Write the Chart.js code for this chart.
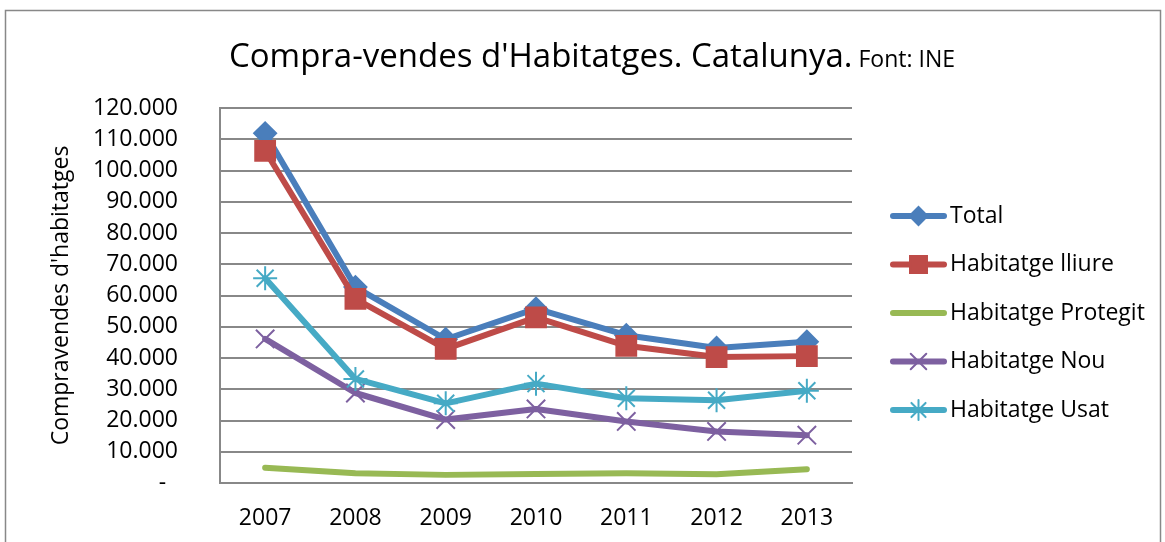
<!DOCTYPE html>
<html>
<head>
  <meta charset="UTF-8">
  <title>Compra-vendes d'Habitatges. Catalunya</title>
  <script src="https://cdn.jsdelivr.net/npm/chart.js"></script>
  <style>
    body { margin: 0; background: #fff; }
  </style>
</head>
<body>
    <canvas id="vendesChart" width="1165" height="542"></canvas>
    <script>
        // data (units: habitatges)
        var years = ['2007', '2008', '2009', '2010', '2011', '2012', '2013'];
        var total = [111900, 62700, 46000, 55800, 47300, 43200, 45200];
        var lliure = [106300, 58900, 42900, 53000, 43900, 40300, 40600];
        var protegit = [4900, 3100, 2600, 2900, 3100, 2800, 4400];
        var nou = [46100, 28800, 20300, 23700, 19700, 16500, 15300];
        var usat = [65500, 33300, 25500, 31800, 27100, 26500, 29500];
        var seriesNames = ['Total', 'Habitatge lliure', 'Habitatge Protegit', 'Habitatge Nou', 'Habitatge Usat'];

        var font = "'Open Sans', 'Noto Sans', sans-serif";
        var gridColor = '#888888';

        function formatNum(v) {
            if (v === 0) return '-  ';
            return String(v).replace(/\B(?=(\d{3})+(?!\d))/g, '.');
        }

        function makeSet(name, values, color, style, radius, order) {
            return {
                label: name,
                data: values,
                borderColor: color,
                backgroundColor: color,
                pointBackgroundColor: color,
                pointBorderColor: color,
                borderWidth: 6,
                borderCapStyle: 'round',
                borderJoinStyle: 'round',
                pointStyle: style,
                pointRadius: radius,
                pointHoverRadius: radius,
                pointBorderWidth: 2,
                tension: 0,
                order: order
            };
        }

        // title, legend and frame are painted by hand
        var decorations = {
            id: 'decorations',
            beforeDraw: function(chart) {
                var ctx = chart.ctx;
                ctx.save();
                ctx.fillStyle = '#ffffff';
                ctx.fillRect(0, 0, chart.width, chart.height);
                ctx.restore();
            },
            afterDraw: function(chart) {
                var ctx = chart.ctx;
                ctx.save();

                // frame
                ctx.strokeStyle = gridColor;
                ctx.lineWidth = 1.5;
                ctx.strokeRect(5.5, 10.5, 1155, 540);

                // title in two sizes
                var main = "Compra-vendes d'Habitatges. Catalunya.";
                var small = ' Font: INE';
                ctx.fillStyle = '#000';
                ctx.textBaseline = 'alphabetic';
                ctx.font = '33px ' + font;
                var w1 = ctx.measureText(main).width;
                ctx.font = '23px ' + font;
                var w2 = ctx.measureText(small).width;
                var x0 = 592 - (w1 + w2) / 2;
                ctx.font = '33px ' + font;
                ctx.textAlign = 'left';
                ctx.fillText(main, x0, 67);
                ctx.font = '23px ' + font;
                ctx.fillText(small, x0 + w1, 67);

                // legend
                var sizes = [9, 12, 0, 11, 10];
                chart.data.datasets.forEach(function(ds, i) {
                    var y = 216 + i * 48.5;
                    ctx.strokeStyle = ds.borderColor;
                    ctx.lineWidth = 6;
                    ctx.lineCap = 'round';
                    ctx.beginPath();
                    ctx.moveTo(893, y);
                    ctx.lineTo(944, y);
                    ctx.stroke();
                    if (sizes[i] > 0) {
                        ctx.fillStyle = ds.borderColor;
                        ctx.lineWidth = 2;
                        Chart.helpers.drawPoint(ctx, {
                            pointStyle: ds.pointStyle,
                            radius: sizes[i],
                            borderWidth: 2,
                            rotation: 0
                        }, 918.5, y);
                    }
                    ctx.fillStyle = '#000';
                    ctx.font = '23px ' + font;
                    ctx.textBaseline = 'middle';
                    ctx.fillText(ds.label, 950, y);
                });
                ctx.restore();
            }
        };

        function createChart() {
            var ctx = document.getElementById('vendesChart').getContext('2d');
            new Chart(ctx, {
                type: 'line',
                data: {
                    labels: years,
                    datasets: [
                        makeSet(seriesNames[0], total, '#4A7EBB', 'rectRot', 11, 5),
                        makeSet(seriesNames[1], lliure, '#BE4B48', 'rect', 14, 4),
                        makeSet(seriesNames[2], protegit, '#98B954', false, 0, 3),
                        makeSet(seriesNames[3], nou, '#7D60A0', 'crossRot', 13, 2),
                        makeSet(seriesNames[4], usat, '#46AAC5', 'star', 12, 1)
                    ]
                },
                options: {
                    responsive: false,
                    animation: false,
                    layout: {
                        padding: { left: 46, top: 108, right: 313, bottom: 0 }
                    },
                    scales: {
                        x: {
                            offset: true,
                            grid: { display: false, drawTicks: false, tickLength: 0 },
                            border: { color: gridColor, width: 2 },
                            ticks: {
                                color: '#000',
                                font: { family: font, size: 23 },
                                padding: 22,
                                maxRotation: 0
                            },
                            afterFit: function(scale) { scale.height = 59; }
                        },
                        y: {
                            min: 0,
                            max: 120000,
                            grid: { color: gridColor, lineWidth: 2, drawTicks: false, tickLength: 0 },
                            border: { color: gridColor, width: 2 },
                            ticks: {
                                stepSize: 10000,
                                color: '#000',
                                font: { family: font, size: 23 },
                                padding: 42,
                                callback: function(v) { return formatNum(v); }
                            },
                            title: {
                                display: true,
                                text: "Compravendes d'habitatges",
                                color: '#000',
                                font: { family: font, size: 23 },
                                padding: 2
                            },
                            afterFit: function(scale) { scale.width = 174; }
                        }
                    },
                    plugins: {
                        legend: { display: false },
                        title: { display: false },
                        tooltip: { enabled: false }
                    }
                },
                plugins: [decorations]
            });
        }

        window.onload = function() {
            createChart();
        };
    </script>
</body>
</html>
